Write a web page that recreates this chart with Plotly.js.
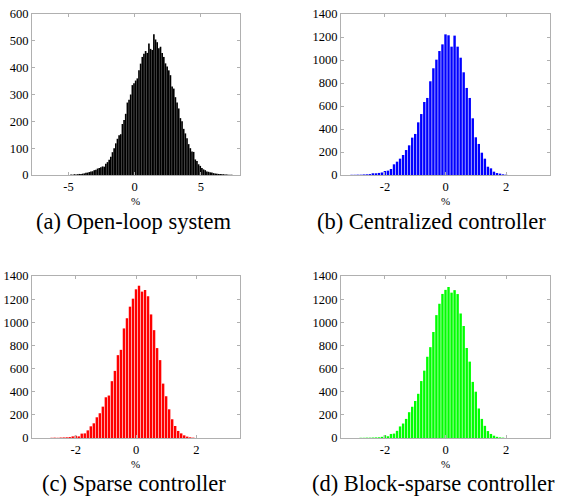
<!DOCTYPE html>
<html>
<head>
<meta charset="utf-8">
<script src="https://cdn.plot.ly/plotly-3.0.1.min.js"></script>
<style>html,body{margin:0;padding:0;background:#fff;}#chart{width:564px;height:496px;}</style>
</head>
<body>
<div id="chart"></div>
<script>
// ---- data ----
// (a) open-loop: bin start / width, counts
const openStart = -4.8;
const openWidth = 0.125;
const openCounts = [2,1,3,2,3,4,4,5,6,8,9,11,13,14,18,20,24,26,29,32,31,42,48,57,68,85,100,118,135,148,152,190,205,228,270,280,300,335,342,352,360,390,415,440,452,462,455,490,470,466,525,505,495,472,478,455,440,416,404,390,372,330,322,290,270,248,212,200,172,155,137,115,100,88,86,58,52,40,34,26,21,18,13,12,10,9,7,6,5,4,4,3,3,2,2,1,1,1];

// (b) centralized
const centStart = -3.1;
const centWidth = 0.1;
const centCounts = [2,2,3,3,5,6,8,15,15,18,22,35,38,52,93,116,142,174,217,258,325,357,458,530,635,670,815,928,1003,1078,1136,1223,1215,1116,1212,1116,1020,893,757,670,493,328,270,194,142,72,58,29,17,12,6,3];

// (c) sparse
const sparseStart = -2.8;
const sparseWidth = 0.1;
const sparseCounts = [2,3,2,4,5,6,8,14,20,14,38,40,66,101,127,179,214,271,352,367,491,580,716,762,947,1035,1135,1204,1285,1316,1265,1279,1225,1068,932,777,673,470,361,248,162,104,61,40,23,12,6,3];

// (d) block-sparse
const blockStart = -2.8;
const blockWidth = 0.1;
const blockCounts = [2,2,3,3,4,5,6,10,25,15,35,38,62,100,125,165,223,270,320,382,492,582,702,785,916,1062,1160,1245,1280,1305,1256,1278,1244,1076,968,778,660,485,400,255,165,105,60,35,20,10,5,3];

const captions = ["(a) Open-loop system", "(b) Centralized controller", "(c) Sparse controller", "(d) Block-sparse controller"];
const xLabel = "%";
const xTicksA = [-5, 0, 5];
const xTickTextA = ["-5", "0", "5"];
const xTicksB = [-2, 0, 2];
const xTickTextB = ["-2", "0", "2"];
const yTicksA = [0,100,200,300,400,500,600];
const yTicksB = [0,200,400,600,800,1000,1200,1400];

// ---- layout ----
const FAM = "Liberation Serif";
const frame = "#b0b0b0";

function xa(domain, range, tv, tt, anchor) {
  return {
    domain: domain, range: range, anchor: anchor,
    tickvals: tv, ticktext: tt,
    ticks: "inside", ticklen: 3, tickcolor: frame, tickwidth: 1,
    showline: true, linecolor: frame, linewidth: 1, mirror: "ticks",
    showgrid: false, zeroline: false,
    tickfont: {family: FAM, size: 12.5, color: "#000"},
    fixedrange: true
  };
}
function ya(domain, range, tv, anchor) {
  return {
    domain: domain, range: range, anchor: anchor,
    tickvals: tv,
    ticks: "inside", ticklen: 3, tickcolor: frame, tickwidth: 1,
    showline: true, linecolor: frame, linewidth: 1, mirror: "ticks",
    showgrid: false, zeroline: false,
    tickfont: {family: FAM, size: 12.5, color: "#000"},
    fixedrange: true
  };
}

const W = 564, H = 496;
const colL = [32/W, 240/W], colR = [341/W, 550/W];
const rowT = [1-175/H, 1-14/H], rowB = [1-438/H, 1-276/H];

const traces = [
  {type: "bar", x0: openStart, dx: openWidth, width: openWidth, y: openCounts, xaxis: "x", yaxis: "y",
   marker: {color: "#000000", line: {width: 0}}, showlegend: false},
  {type: "bar", x0: centStart, dx: centWidth, y: centCounts, xaxis: "x2", yaxis: "y2",
   marker: {color: "#0000ff", line: {width: 0}}, showlegend: false},
  {type: "bar", x0: sparseStart, dx: sparseWidth, y: sparseCounts, xaxis: "x3", yaxis: "y3",
   marker: {color: "#ff0000", line: {width: 0}}, showlegend: false},
  {type: "bar", x0: blockStart, dx: blockWidth, y: blockCounts, xaxis: "x4", yaxis: "y4",
   marker: {color: "#00ff00", line: {width: 0}}, showlegend: false}
];

const capFont = {family: FAM, size: 22.5, color: "#000"};
const pctFont = {family: FAM, size: 11, color: "#000"};
function ann(text, px, py, font) {
  return {text: text, x: px/W, y: 1-py/H, xref: "paper", yref: "paper", showarrow: false,
          font: font, xanchor: "center", yanchor: "middle", borderpad: 0};
}
const layout = {
  width: W, height: H,
  margin: {l: 0, r: 0, t: 0, b: 0},
  paper_bgcolor: "#fff", plot_bgcolor: "#fff",
  font: {family: FAM, color: "#000"},
  bargap: 0.2,
  xaxis: xa(colL, [-7.75, 7.95], xTicksA, xTickTextA, "y"),
  yaxis: ya(rowT, [0, 600], yTicksA, "x"),
  xaxis2: xa(colR, [-3.45, 3.45], xTicksB, xTickTextB, "y2"),
  yaxis2: ya(rowT, [0, 1400], yTicksB, "x2"),
  xaxis3: xa(colL, [-3.45, 3.45], xTicksB, xTickTextB, "y3"),
  yaxis3: ya(rowB, [0, 1400], yTicksB, "x3"),
  xaxis4: xa(colR, [-3.45, 3.45], xTicksB, xTickTextB, "y4"),
  yaxis4: ya(rowB, [0, 1400], yTicksB, "x4"),
  annotations: [
    ann(captions[0], 133, 222, capFont),
    ann(captions[1], 431, 222, capFont),
    ann(captions[2], 134, 483, capFont),
    ann(captions[3], 433, 483, capFont),
    ann(xLabel, 135, 201, pctFont),
    ann(xLabel, 445, 201, pctFont),
    ann(xLabel, 135, 464, pctFont),
    ann(xLabel, 445, 464, pctFont)
  ]
};

Plotly.newPlot("chart", traces, layout, {staticPlot: true, displayModeBar: false});
</script>
</body>
</html>
